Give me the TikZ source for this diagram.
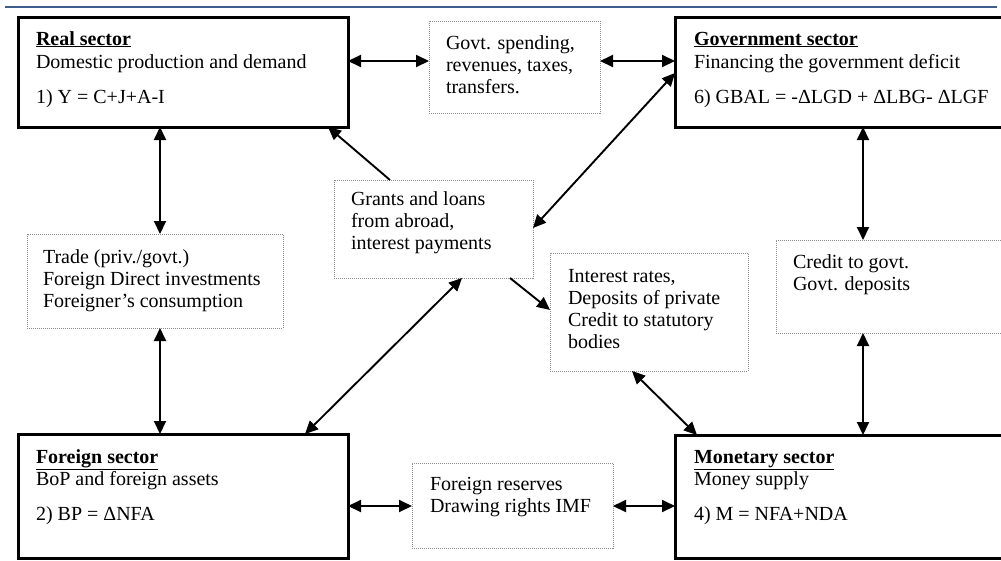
\documentclass[tikz,border=0pt]{standalone}
\usepackage{fontspec}
\setmainfont{Liberation Serif}
\usetikzlibrary{arrows.meta,calc}
\definecolor{rulecol}{RGB}{63,93,140}
\definecolor{dotcol}{RGB}{140,140,140}
\begin{document}
\begin{tikzpicture}[x=1pt,y=-1pt,
  every node/.style={font=\fontsize{20}{22}\selectfont},
  sector/.style={draw,line width=3pt,rectangle,anchor=north west,outer sep=0pt,inner sep=0pt},
  infobox/.style={draw=dotcol,line width=0.9pt,dash pattern=on 1pt off 1pt,rectangle,anchor=north west,outer sep=0pt,inner sep=0pt},
  txt/.style={anchor=base west,inner sep=0pt,outer sep=0pt},
  conn/.style={line width=1.9pt,-{Triangle[length=13pt,width=12pt]}},
  dconn/.style={line width=1.9pt,{Triangle[length=13pt,width=12pt]}-{Triangle[length=13pt,width=12pt]}}]
\useasboundingbox (0,0) rectangle (1001,560);
\draw[line width=2.5pt,rulecol] (5,6.8) -- (997,6.8);
% boxes
\node[sector,minimum width=330pt,minimum height=110pt] (real) at (18,17) {};
\node[sector,minimum width=335pt,minimum height=110pt] (gov) at (675,17) {};
\node[sector,minimum width=330pt,minimum height=124pt] (foreign) at (18,434) {};
\node[sector,minimum width=335pt,minimum height=123pt] (monetary) at (675,435) {};
\node[infobox,minimum width=171pt,minimum height=92pt] (gsp) at (429,21) {};
\node[infobox,minimum width=256pt,minimum height=94pt] (trade) at (27,234) {};
\node[infobox,minimum width=199pt,minimum height=98pt] (grants) at (334,180) {};
\node[infobox,minimum width=198pt,minimum height=118pt] (interest) at (550,253) {};
\node[infobox,minimum width=229pt,minimum height=93pt] (credit) at (776,240) {};
\node[infobox,minimum width=201pt,minimum height=85pt] (reserves) at (412,463) {};
% texts
\node[txt] (realA) at (36,45) {\underline{\textbf{Real sector}}};
\node[txt] (realB) at (36,68) {Domestic production and demand};
\node[txt] (realC) at (36,103) {1) Y = C+J+A-I};
\node[txt] (govA) at (694,45) {\underline{\textbf{Government sector}}};
\node[txt] (govB) at (694,68) {Financing the government deficit};
\node[txt] (govC) at (694,103) {6) GBAL = -ΔLGD + ΔLBG- ΔLGF};
\node[txt] (forA) at (36,463) {\underline{\textbf{Foreign sector}}};
\node[txt] (forB) at (36,485) {BoP and foreign assets};
\node[txt] (forC) at (36,520) {2) BP = ΔNFA};
\node[txt] (monA) at (694,463) {\underline{\textbf{Monetary sector}}};
\node[txt] (monB) at (694,485) {Money supply};
\node[txt] (monC) at (694,520) {4) M = NFA+NDA};
\node[txt] (gspA) at (446,49) {Govt. spending,};
\node[txt] (gspB) at (446,71) {revenues, taxes,};
\node[txt] (gspC) at (446,93) {transfers.};
\node[txt] (traA) at (43,263) {Trade (priv./govt.)};
\node[txt] (traB) at (43,285) {Foreign Direct investments};
\node[txt] (traC) at (43,307) {Foreigner’s consumption};
\node[txt] (graA) at (351,205) {Grants and loans};
\node[txt] (graB) at (351,227) {from abroad,};
\node[txt] (graC) at (351,249) {interest payments};
\node[txt] (intA) at (568,282) {Interest rates,};
\node[txt] (intB) at (568,304) {Deposits of private};
\node[txt] (intC) at (568,326) {Credit to statutory};
\node[txt] (intD) at (568,348) {bodies};
\node[txt] (creA) at (793,268) {Credit to govt.};
\node[txt] (creB) at (793,290) {Govt. deposits};
\node[txt] (resA) at (430,490) {Foreign reserves};
\node[txt] (resB) at (430,512) {Drawing rights IMF};
% connectors
\draw[dconn] ([shift={(0,44)}]real.north east) -- ([shift={(0,40)}]gsp.north west);
\draw[dconn] ([shift={(0,40)}]gsp.north east) -- ([shift={(0,44)}]gov.north west);
\draw[dconn] ([shift={(142,0)}]real.south west) -- ([shift={(133,0)}]trade.north west);
\draw[dconn] ([shift={(133,0)}]trade.south west) -- ([shift={(142,0)}]foreign.north west);
\draw[conn] ([shift={(56,0)}]grants.north west) -- ([shift={(-20,0)}]real.south east);
\draw[dconn] ([shift={(0,48)}]grants.north east) -- ([shift={(0,56)}]gov.north west);
\draw[conn] ([shift={(-23,0)}]grants.south east) -- ([shift={(0,57)}]interest.north west);
\draw[dconn] ([shift={(-71,0)}]grants.south east) -- ([shift={(287,0)}]foreign.north west);
\draw[dconn] ([shift={(82,0)}]interest.south west) -- ([shift={(22,0)}]monetary.north west);
\draw[dconn] ([shift={(188,0)}]gov.south west) -- ([shift={(87,0)}]credit.north west);
\draw[dconn] ([shift={(87,0)}]credit.south west) -- ([shift={(188,0)}]monetary.north west);
\draw[dconn] ([shift={(0,72)}]foreign.north east) -- ([shift={(0,43)}]reserves.north west);
\draw[dconn] ([shift={(0,43)}]reserves.north east) -- ([shift={(0,71)}]monetary.north west);
\end{tikzpicture}
\end{document}
